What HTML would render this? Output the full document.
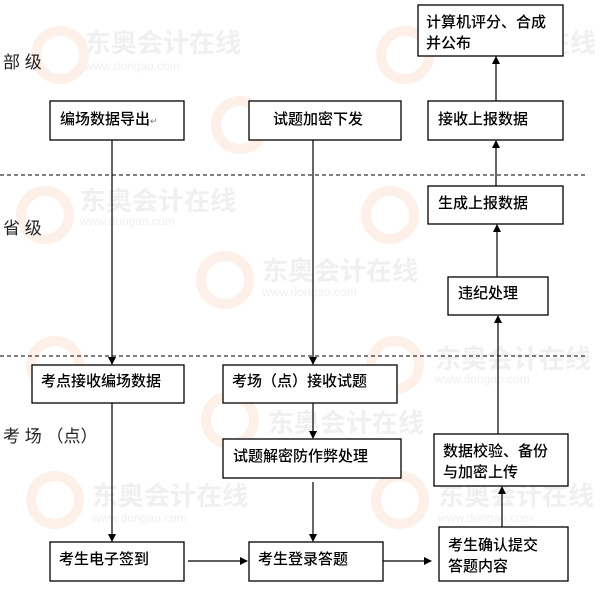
<!DOCTYPE html>
<html><head><meta charset="utf-8"><style>
body{margin:0;background:#fff;width:602px;height:590px;overflow:hidden}
svg{display:block}
text{font-family:"Liberation Sans","Noto Sans CJK SC","WenQuanYi Zen Hei",sans-serif;font-size:15px;fill:#000}
.t{font-weight:500}
.b{fill:#fff;stroke:#000;stroke-width:1.3}
.l{stroke:#000;stroke-width:1.2;fill:none}
.wm{fill:#f0f0f0;font-size:26px;font-weight:bold}
.wu{fill:#f0f0f0;font-size:12px}
.c{fill:none;stroke:#fdf0e8;stroke-width:10}
.lab{font-size:17px;fill:#222}
</style></head><body>
<svg width="602" height="590" viewBox="0 0 602 590">
<defs><marker id="a" markerWidth="8" markerHeight="8" refX="7" refY="4" orient="auto" markerUnits="userSpaceOnUse"><path d="M0,0L8,4L0,8z" fill="#000"/></marker></defs>
<g>
<circle class="c" cx="60" cy="55" r="24"/>
<text class="wm" x="85" y="52">东奥会计在线</text><text class="wu" x="85" y="70">www.dongao.com</text>
<circle class="c" cx="405" cy="55" r="24"/>
<text class="wm" x="440" y="52">东奥会计在线</text>
<circle class="c" cx="240" cy="125" r="24"/>
<circle class="c" cx="45" cy="215" r="24"/>
<text class="wm" x="80" y="210">东奥会计在线</text><text class="wu" x="80" y="225">www.dongao.com</text>
<circle class="c" cx="390" cy="215" r="24"/>
<circle class="c" cx="225" cy="280" r="24"/>
<text class="wm" x="262" y="280">东奥会计在线</text><text class="wu" x="262" y="296">www.dongao.com</text>
<circle class="c" cx="55" cy="365" r="24"/>
<circle class="c" cx="395" cy="365" r="24"/>
<text class="wm" x="435" y="368">东奥会计在线</text><text class="wu" x="435" y="383">www.dongao.com</text>
<circle class="c" cx="230" cy="420" r="24"/>
<text class="wm" x="268" y="432">东奥会计在线</text>
<circle class="c" cx="55" cy="500" r="24"/>
<text class="wm" x="92" y="505">东奥会计在线</text><text class="wu" x="92" y="522">www.dongao.com</text>
<circle class="c" cx="400" cy="500" r="24"/>
<text class="wm" x="438" y="505">东奥会计在线</text><text class="wu" x="438" y="522">www.dongao.com</text>
</g>
<line x1="0" y1="175" x2="588" y2="175" stroke="#000" stroke-dasharray="4,3"/>
<line x1="0" y1="356" x2="588" y2="356" stroke="#000" stroke-dasharray="4,3"/>
<text class="lab" x="3" y="68">部 级</text>
<text class="lab" x="3" y="234">省 级</text>
<text class="lab" x="3" y="442">考 场 （点）</text>
<line class="l" x1="112" y1="140" x2="112" y2="364" marker-end="url(#a)"/>
<line class="l" x1="313" y1="140" x2="313" y2="364" marker-end="url(#a)"/>
<line class="l" x1="313" y1="403" x2="313" y2="438" marker-end="url(#a)"/>
<line class="l" x1="313" y1="482" x2="313" y2="541" marker-end="url(#a)"/>
<line class="l" x1="112" y1="403" x2="112" y2="541" marker-end="url(#a)"/>
<line class="l" x1="188" y1="561" x2="247" y2="561" marker-end="url(#a)"/>
<line class="l" x1="379" y1="561" x2="431" y2="561" marker-end="url(#a)"/>
<line class="l" x1="502" y1="527" x2="502" y2="487" marker-end="url(#a)"/>
<line class="l" x1="498" y1="434" x2="498" y2="316" marker-end="url(#a)"/>
<line class="l" x1="497" y1="277" x2="497" y2="225" marker-end="url(#a)"/>
<line class="l" x1="496" y1="186" x2="496" y2="141" marker-end="url(#a)"/>
<line class="l" x1="496" y1="101" x2="496" y2="57" marker-end="url(#a)"/>
<g class="t">
<rect class="b" x="418" y="5" width="145" height="51"/>
<text x="426" y="27">计算机评分、合成</text><text x="426" y="48">并公布</text>
<rect class="b" x="50" y="101" width="134" height="39"/>
<text x="60" y="124">编场数据导出<tspan font-size="9" fill="#777">↵</tspan></text>
<rect class="b" x="249" y="101" width="152" height="39"/>
<text x="273" y="124">试题加密下发</text>
<rect class="b" x="428" y="101" width="135" height="39"/>
<text x="438" y="124">接收上报数据</text>
<rect class="b" x="428" y="186" width="135" height="38"/>
<text x="438" y="208">生成上报数据</text>
<rect class="b" x="448" y="277" width="100" height="38"/>
<text x="458" y="298">违纪处理</text>
<rect class="b" x="32" y="365" width="152" height="38"/>
<text x="41" y="386">考点接收编场数据</text>
<rect class="b" x="223" y="365" width="174" height="38"/>
<text x="232" y="386">考场（点）接收试题</text>
<rect class="b" x="223" y="439" width="178" height="39"/>
<text x="233" y="461">试题解密防作弊处理</text>
<rect class="b" x="434" y="434" width="134" height="52"/>
<text x="443" y="456">数据校验、备份</text><text x="443" y="477">与加密上传</text>
<rect class="b" x="50" y="542" width="134" height="39"/>
<text x="59" y="564">考生电子签到</text>
<rect class="b" x="249" y="542" width="134" height="39"/>
<text x="258" y="564">考生登录答题</text>
<rect class="b" x="439" y="527" width="129" height="54"/>
<text x="448" y="550">考生确认提交</text><text x="448" y="571">答题内容</text>
</g>
</svg>
</body></html>
